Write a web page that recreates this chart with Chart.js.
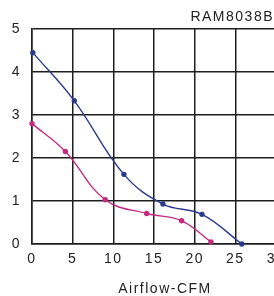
<!DOCTYPE html>
<html>
<head>
  <script src="https://cdn.jsdelivr.net/npm/chart.js"></script>
  <style>
    html, body { margin: 0; padding: 0; overflow: hidden; background: #fff; }
  </style>
</head>
<body>
  <canvas id="chart" width="300" height="296"></canvas>
  <script>
    // curve data
    const blueFlow = [0.1, 5.2, 11.3, 16.1, 20.9, 25.8];
    const bluePressure = [4.45, 3.33, 1.62, 0.93, 0.69, 0];
    const pinkFlow = [0, 4.1, 9.0, 14.1, 18.4, 22.0];
    const pinkPressure = [2.8, 2.15, 1.03, 0.71, 0.54, 0.05];
    const xTicks = [0, 5, 10, 15, 20, 25, 30];
    const yTicks = [0, 1, 2, 3, 4, 5];
    const modelName = 'RAM8038B';
    const xTitle = 'Airflow-CFM';

    const toPoints = (xs, ys) => xs.map((x, i) => ({ x: x, y: ys[i] }));
    const font = { family: 'Liberation Sans', size: 14 };

    // texts with wide spacing, like the original
    const labels = {
      id: 'labels',
      beforeDraw(chart) {
        chart.ctx.letterSpacing = '1.5px';
      },
      afterDraw(chart) {
        const ctx = chart.ctx;
        const area = chart.chartArea;
        ctx.save();
        ctx.letterSpacing = '1.5px';
        ctx.fillStyle = '#222';
        ctx.font = '14px "Liberation Sans"';
        ctx.textBaseline = 'alphabetic';
        ctx.textAlign = 'right';
        ctx.fillText(modelName, area.right - 2, 21);
        ctx.textAlign = 'center';
        ctx.fillText(xTitle, area.left + 133, 293);
        ctx.restore();
      }
    };

    const ctx = document.getElementById('chart').getContext('2d');
    new Chart(ctx, {
      type: 'scatter',
      data: {
        datasets: [{
          data: toPoints(blueFlow, bluePressure),
          borderColor: '#2b3a8f',
          backgroundColor: '#2b3a8f',
          borderWidth: 1.4,
          pointRadius: 2,
          showLine: true,
          tension: 0.4,
          clip: false
        }, {
          data: toPoints(pinkFlow, pinkPressure),
          borderColor: '#c42a7e',
          backgroundColor: '#c42a7e',
          borderWidth: 1.4,
          pointRadius: 2,
          showLine: true,
          tension: 0.4,
          clip: false
        }]
      },
      options: {
        responsive: false,
        animation: false,
        layout: { padding: { top: 29, right: 24, left: 0, bottom: 0 } },
        plugins: { legend: { display: false }, tooltip: { enabled: false } },
        scales: {
          x: {
            type: 'linear',
            min: xTicks[0], max: xTicks[xTicks.length - 1],
            afterFit: (s) => { s.height = 52; },
            grid: { color: '#1e1e1e', lineWidth: 1.5, drawTicks: false },
            border: { color: '#1e1e1e', width: 1.5 },
            ticks: { stepSize: xTicks[1] - xTicks[0], font: font, color: '#222', padding: 7, maxRotation: 0 }
          },
          y: {
            min: yTicks[0], max: yTicks[yTicks.length - 1],
            afterFit: (s) => { s.width = 32; },
            grid: { color: '#1e1e1e', lineWidth: 1.5, drawTicks: false },
            border: { color: '#1e1e1e', width: 1.5 },
            ticks: { stepSize: yTicks[1] - yTicks[0], font: font, color: '#222', padding: 11 }
          }
        }
      },
      plugins: [labels]
    });
  </script>
</body>
</html>
